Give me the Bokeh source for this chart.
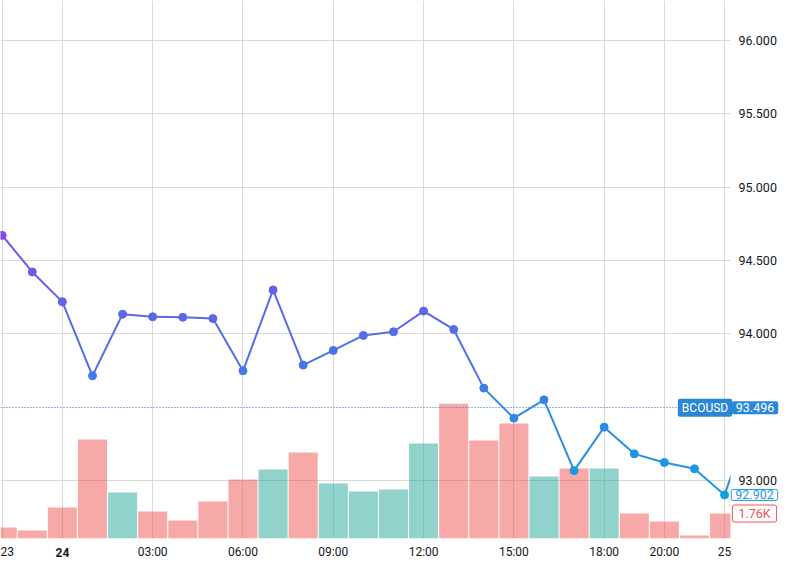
from bokeh.plotting import figure
from bokeh.models import (Range1d, FixedTicker, NumeralTickFormatter, Label,
                          LinearAxis)
from bokeh.embed import file_html
from bokeh.resources import INLINE

# ---------------- data ----------------
symbol = "BCOUSD"
bar_index = list(range(26))
close = [94.671, 94.422, 94.218, 93.714, 94.134, 94.116, 94.113, 94.104, 93.748,
         94.299, 93.787, 93.887, 93.989, 94.014, 94.155, 94.030, 93.630, 93.425,
         93.550, 93.068, 93.364, 93.182, 93.123, 93.080, 92.902, 93.496]
volume_k = [0.77, 0.56, 2.18, 6.97, 3.24, 1.90, 1.27, 2.60, 4.15, 4.86, 6.05, 3.87,
            3.31, 3.45, 6.69, 9.50, 6.90, 8.10, 4.36, 4.93, 4.93, 1.76, 1.20, 0.21, 1.76]
direction = ["down", "down", "down", "down", "up", "down", "down", "down", "down",
             "up", "down", "up", "up", "up", "up", "down", "down", "down", "up",
             "down", "up", "down", "down", "down", "down"]
time_ticks = [0, 2, 5, 8, 11, 14, 17, 20, 22, 24]
time_labels = ["23", "24", "03:00", "06:00", "09:00", "12:00", "15:00", "18:00", "20:00", "25"]
bold_ticks = ["24"]
price_ticks = [93.0, 94.0, 94.5, 95.0, 95.5, 96.0]
last_visible = 24

# ---------------- styling / layout ----------------
FONT = "Roboto"
TEXT = "#131722"
GRID = "#d9d9d9"
UP = "#26a69a"
DOWN = "#ef5350"
LAST_BLUE = "#2a87d8"
CYAN = "#1e9be0"
LINE_HI = (128, 76, 232)
LINE_LO = (16, 160, 226)
P_HI, P_LO = 94.7, 92.9

W, H = 785, 568
BOTTOM = 30                 # time-scale height
PANE_W = 730                # width of the chart pane (price scale to its right)
PX_PER_BAR = 30.1
X0 = -0.056
X1 = X0 + W / PX_PER_BAR
X_CUT = X0 + PANE_W / PX_PER_BAR
Y0, Y1 = 92.605, 96.272
VOL_MAX = 37.9


def grad(price):
    t = (price - P_LO) / (P_HI - P_LO)
    t = max(0.0, min(1.0, t))
    r, g, b = (round(LINE_LO[k] + (LINE_HI[k] - LINE_LO[k]) * t) for k in range(3))
    return "#%02x%02x%02x" % (r, g, b)


p = figure(width=W, height=H,
           x_range=Range1d(X0, X1), y_range=Range1d(Y0, Y1),
           output_backend="svg", toolbar_location=None,
           y_axis_location="right",
           min_border_left=0, min_border_top=0,
           min_border_right=0, min_border_bottom=BOTTOM)
p.outline_line_color = None
p.background_fill_color = "white"
p.border_fill_color = "white"

# ---- axes ----
xt = FixedTicker(ticks=time_ticks)
p.xaxis.ticker = xt
p.xgrid.ticker = xt
p.xaxis.major_label_overrides = {t: ("" if l in bold_ticks else l)
                                 for t, l in zip(time_ticks, time_labels)}
yt = FixedTicker(ticks=price_ticks)
p.yaxis.ticker = yt
p.ygrid.ticker = yt
p.yaxis.formatter = NumeralTickFormatter(format="0.000")
for ax in (p.xaxis, p.yaxis):
    ax.axis_line_color = None
    ax.major_tick_line_color = None
    ax.minor_tick_line_color = None
    ax.major_tick_out = 0
    ax.major_tick_in = 0
    ax.minor_tick_out = 0
    ax.major_label_text_font = FONT
    ax.major_label_text_color = TEXT
p.xaxis.major_label_text_font_size = "12px"
p.xaxis.major_label_standoff = 6
p.yaxis.major_label_text_font_size = "12.5px"
p.yaxis.major_label_standoff = -(W - PANE_W - 8)
p.yaxis.major_label_text_align = "left"

# bold day label: second time axis laid over the first
bold_axis = LinearAxis(ticker=FixedTicker(ticks=[t for t, l in zip(time_ticks, time_labels)
                                                 if l in bold_ticks]),
                       major_label_overrides={t: l for t, l in zip(time_ticks, time_labels)
                                              if l in bold_ticks},
                       axis_line_color=None, major_tick_line_color=None,
                       minor_tick_line_color=None, major_tick_out=0, major_tick_in=0,
                       minor_tick_out=0,
                       major_label_text_font=FONT, major_label_text_font_size="12px",
                       major_label_text_font_style="bold",
                       major_label_text_color=TEXT,
                       major_label_standoff=6 - 20)
p.add_layout(bold_axis, "below")

p.grid.grid_line_color = GRID
p.grid.grid_line_width = 1

# ---- volume ----
p.extra_y_ranges = {"vol": Range1d(0, VOL_MAX)}
vcolors = [UP if d == "up" else DOWN for d in direction]
p.vbar(x=bar_index[:len(volume_k)], top=volume_k, bottom=0, width=0.965,
       y_range_name="vol", fill_color=vcolors, fill_alpha=0.5, line_color=None)

# ---- last price dotted line ----
p.hspan(y=[close[-1]], line_color="#1f74d0", line_dash="1 2", line_width=1.2)

# ---- price line with vertical gradient ----
seg_col = [grad((a + b) / 2) for a, b in zip(close[:-1], close[1:])]
p.segment(x0=bar_index[:-1], y0=close[:-1], x1=bar_index[1:], y1=close[1:],
          line_color=seg_col, line_width=2, line_cap="round")
p.scatter(x=bar_index, y=close, size=8, fill_color=[grad(c) for c in close],
          line_color=[grad(c) for c in close])

# ---- price-scale background (hides the pane beyond its right edge) ----
p.quad(left=[X_CUT], right=[X1 + 1], bottom=[Y0 - 5], top=[Y1 + 5],
       fill_color="white", line_color=None)


# ---- price-scale badges ----
def badge(x, y, text, fg, bg, border=None, size="12.5px", pad=None, **kw):
    return Label(x=x, x_units="screen", y=y, text=text, text_align="center",
                 text_baseline="middle", text_font=FONT, text_font_size=size,
                 text_color=fg, background_fill_color=bg, border_line_color=border,
                 padding=pad or dict(left=4, right=4, top=2, bottom=2),
                 border_radius=2, **kw)


p.add_layout(badge(704.5, close[-1], symbol, "white", LAST_BLUE, size="12px"))
p.add_layout(badge(754.5, close[-1], f"{close[-1]:.3f}", "white", LAST_BLUE))
p.add_layout(badge(754, close[last_visible], f"{close[last_visible]:.3f}",
                   CYAN, "white", CYAN, pad=dict(left=4, right=4, top=1, bottom=1)))
p.add_layout(badge(754, volume_k[last_visible], f"{volume_k[last_visible]:.2f}K",
                   DOWN, "white", DOWN, pad=dict(left=6, right=6, top=1, bottom=1),
                   y_range_name="vol"))

open("out.html", "w").write(file_html(p, INLINE))
